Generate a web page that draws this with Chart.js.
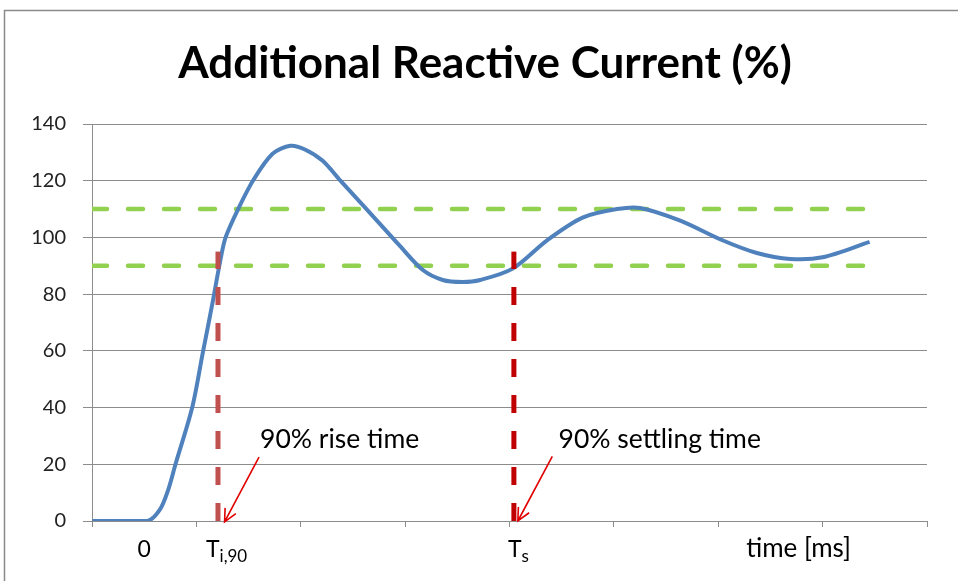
<!DOCTYPE html>
<html lang="en">
<head>
    <meta charset="UTF-8">
    <title>Additional Reactive Current</title>
    <script src="https://cdn.jsdelivr.net/npm/chart.js"></script>
    <style>
        html, body { margin: 0; padding: 0; background: #fff; }
        #wrap { position: relative; width: 958px; height: 581px; }
    </style>
</head>
<body>
<div id="wrap"><canvas id="chart" width="958" height="581"></canvas></div>
<script>
// time in tick intervals, current in %
const times   = [0, 0.53, 0.65, 0.73, 0.80, 0.96, 1.06, 1.16, 1.23, 1.28, 1.40, 1.55, 1.73, 1.90, 2.04, 2.21, 2.38, 2.63, 2.95, 3.17, 3.36, 3.55, 3.72, 4.03, 4.36, 4.70, 5.03, 5.25, 5.63, 6.04, 6.37, 6.69, 7.00, 7.45];
const current = [0, 0, 4, 11, 20, 40, 59, 78, 92, 100, 110, 120.5, 129.5, 132.3, 131, 127, 120, 110, 97, 88.5, 85, 84.3, 85, 89, 99, 107, 110, 110.4, 106, 99, 94.5, 92.4, 93, 98.4];

const bandTimes = [0, 7.42];
const upperBand = [110, 110];
const lowerBand = [90, 90];

const riseTime = 1.207;
const settlingTime = 4.042;
const markerLevels = [0, 95];

const yTicks = [0, 20, 40, 60, 80, 100, 120, 140];

const pts = (xs, ys) => xs.map((x, i) => ({ x: x, y: ys[i] }));
const vline = (t) => markerLevels.map(v => ({ x: t, y: v }));

const gridGray = '#8c8c8c';
const font = 'Lato, "Open Sans", sans-serif';

function arrow(ctx, x1, y1, x2, y2) {
    const a = Math.atan2(y2 - y1, x2 - x1);
    const h = 14;
    ctx.beginPath();
    ctx.moveTo(x1, y1);
    ctx.lineTo(x2, y2);
    ctx.moveTo(x2 - h * Math.cos(a - 0.45), y2 - h * Math.sin(a - 0.45));
    ctx.lineTo(x2, y2);
    ctx.lineTo(x2 - h * Math.cos(a + 0.45), y2 - h * Math.sin(a + 0.45));
    ctx.stroke();
}

const decorations = {
    id: 'decorations',
    beforeDraw(chart) {
        const ctx = chart.ctx;
        ctx.save();
        ctx.fillStyle = '#fff';
        ctx.fillRect(0, 0, chart.width, chart.height);
        ctx.strokeStyle = '#8a8a8a';
        ctx.lineWidth = 1.5;
        ctx.beginPath();
        ctx.moveTo(4.5, chart.height);
        ctx.lineTo(4.5, 10.5);
        ctx.lineTo(chart.width, 10.5);
        ctx.stroke();
        ctx.restore();
    },
    afterDraw(chart) {
        const ctx = chart.ctx;
        const xs = chart.scales.x, ys = chart.scales.y;
        ctx.save();
        ctx.fillStyle = '#000';
        ctx.textBaseline = 'alphabetic';

        // title
        ctx.font = 'bold 44px ' + font;
        ctx.textAlign = 'center';
        ctx.fillText('Additional Reactive Current (%)', 485, 78);

        // x labels
        const base = 557;
        ctx.font = '23px ' + font;
        ctx.fillText('0', xs.getPixelForValue(0.5), base);
        ctx.font = '26px ' + font;
        ctx.fillText('time [ms]', xs.getPixelForValue(6.77), base);

        ctx.textAlign = 'left';
        let x = xs.getPixelForValue(riseTime) - 12;
        ctx.font = '23px ' + font;
        ctx.fillText('T', x, base);
        x += ctx.measureText('T').width;
        ctx.font = '17px ' + font;
        ctx.fillText('i,90', x, base + 5);

        x = xs.getPixelForValue(settlingTime) - 6;
        ctx.font = '23px ' + font;
        ctx.fillText('T', x, base);
        x += ctx.measureText('T').width;
        ctx.font = '17px ' + font;
        ctx.fillText('s', x, base + 5);

        // annotations
        ctx.font = '26.5px ' + font;
        ctx.fillText('90% rise time', xs.getPixelForValue(1.61), ys.getPixelForValue(25.7));
        ctx.fillText('90% settling time', xs.getPixelForValue(4.47), ys.getPixelForValue(25.7));

        ctx.strokeStyle = '#e00000';
        ctx.lineWidth = 1.6;
        arrow(ctx, xs.getPixelForValue(1.60), ys.getPixelForValue(22.5), xs.getPixelForValue(1.27), ys.getPixelForValue(-0.3));
        arrow(ctx, xs.getPixelForValue(4.41), ys.getPixelForValue(22.8), xs.getPixelForValue(4.08), ys.getPixelForValue(0));
        ctx.restore();
    }
};

new Chart(document.getElementById('chart'), {
    type: 'line',
    data: {
        datasets: [
            {
                label: 'Current',
                data: pts(times, current),
                borderColor: '#4f81bd',
                borderWidth: 4,
                tension: 0.3,
                pointRadius: 0,
                order: 1
            },
            {
                label: '110%',
                data: pts(bandTimes, upperBand),
                borderColor: '#92d050',
                borderWidth: 4.5,
                borderDash: [15, 21],
                borderCapStyle: 'round',
                pointRadius: 0,
                order: 2
            },
            {
                label: '90%',
                data: pts(bandTimes, lowerBand),
                borderColor: '#92d050',
                borderWidth: 4.5,
                borderDash: [15, 21],
                borderCapStyle: 'round',
                pointRadius: 0,
                order: 2
            },
            {
                label: 'Rise time',
                data: vline(riseTime),
                borderColor: '#c0504d',
                borderWidth: 5,
                borderDash: [18, 18],
                pointRadius: 0,
                order: 0
            },
            {
                label: 'Settling time',
                data: vline(settlingTime),
                borderColor: '#c00000',
                borderWidth: 5,
                borderDash: [18, 18],
                pointRadius: 0,
                order: 0
            }
        ]
    },
    options: {
        responsive: false,
        animation: false,
        layout: { padding: { top: 124, right: 31, bottom: 0, left: 0 } },
        plugins: {
            legend: { display: false },
            title: { display: false },
            tooltip: { enabled: false }
        },
        scales: {
            x: {
                type: 'linear',
                min: 0,
                max: 8,
                ticks: { stepSize: 1, display: false },
                grid: { drawOnChartArea: false, drawTicks: true, tickLength: 6, color: gridGray },
                border: { color: gridGray, width: 1 },
                afterFit(scale) { scale.height = 60; }
            },
            y: {
                min: 0,
                max: 140,
                afterBuildTicks(scale) { scale.ticks = yTicks.map(v => ({ value: v })); },
                ticks: { padding: 17, color: '#222', font: { family: font, size: 20 } },
                grid: { color: gridGray, tickLength: 9 },
                border: { color: gridGray, width: 1 },
                afterFit(scale) { scale.width = 92; }
            }
        }
    },
    plugins: [decorations]
});
</script>
</body>
</html>
